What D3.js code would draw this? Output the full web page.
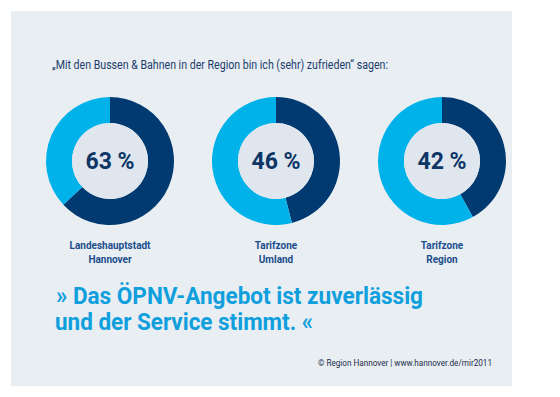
<!DOCTYPE html>
<html>
<head>
<meta charset="utf-8">
<script src="https://cdn.jsdelivr.net/npm/d3@7"></script>
<style>
  body { margin: 0; background: #fff; }
  svg text { font-family: "Roboto", "DejaVu Sans", sans-serif; }
</style>
</head>
<body>
<div id="chart"></div>
<script>
// data
var regions = [["Landeshauptstadt", "Hannover"], ["Tarifzone", "Umland"], ["Tarifzone", "Region"]];
var zufrieden = [63, 46, 42];

var width = 560, height = 397;

var svg = d3.select("#chart")
    .append("svg")
    .attr("width", width)
    .attr("height", height);

// grey panel
svg.append("rect")
    .attr("x", 11).attr("y", 11)
    .attr("width", 501).attr("height", 375)
    .attr("fill", "#e9eef3");

svg.append("text")
    .attr("x", 52).attr("y", 69)
    .attr("font-size", 12)
    .attr("fill", "#1c3d6b")
    .attr("textLength", 336)
    .attr("lengthAdjust", "spacingAndGlyphs")
    .text("\u201EMit den Bussen & Bahnen in der Region bin ich (sehr) zufrieden\u201C sagen:");

// one band per donut
var x = d3.scaleBand()
    .domain(d3.range(zufrieden.length))
    .range([27, 525]);

var outerR = 64, innerR = 38;
var pie = d3.pie().sort(null).value(function (d) { return d; });
var arc = d3.arc().innerRadius(innerR).outerRadius(outerR);
var color = ["#003a70", "#00b2ea"];

var g = svg.selectAll(".donut")
    .data(zufrieden)
    .enter().append("g")
    .attr("class", "donut")
    .attr("transform", function (d, i) { return "translate(" + (x(i) + x.bandwidth() / 2) + ",161)"; });

g.selectAll("path")
    .data(function (d) { return pie([d, 100 - d]); })
    .enter().append("path")
    .attr("d", arc)
    .attr("fill", function (d, i) { return color[i]; });

g.append("circle")
    .attr("r", innerR)
    .attr("fill", "#dfe6ee");

g.append("text")
    .attr("text-anchor", "middle")
    .attr("y", 8)
    .attr("font-size", 23)
    .attr("font-weight", "bold")
    .attr("fill", "#0d3566")
    .text(function (d) { return d + " %"; });

g.selectAll(".lbl")
    .data(function (d, i) { return regions[i]; })
    .enter().append("text")
    .attr("class", "lbl")
    .attr("text-anchor", "middle")
    .attr("y", function (d, j) { return 88 + j * 14; })
    .attr("font-size", 10)
    .attr("font-weight", "bold")
    .attr("fill", "#1a4d8c")
    .text(function (d) { return d; });

// quote
var quote = ["\u00BB Das \u00D6PNV-Angebot ist zuverl\u00E4ssig", "und der Service stimmt. \u00AB"];
var quoteWidth = [367, 258];
svg.selectAll(".quote")
    .data(quote)
    .enter().append("text")
    .attr("class", "quote")
    .attr("x", function (d, i) { return i == 0 ? 56 : 55; })
    .attr("y", function (d, i) { return 304 + i * 26; })
    .attr("font-size", 24)
    .attr("font-weight", "bold")
    .attr("fill", "#109fdd")
    .attr("textLength", function (d, i) { return quoteWidth[i]; })
    .attr("lengthAdjust", "spacingAndGlyphs")
    .text(function (d) { return d; });

svg.append("text")
    .attr("x", 318).attr("y", 366)
    .attr("font-size", 9)
    .attr("fill", "#1c2d4a")
    .attr("textLength", 174)
    .attr("lengthAdjust", "spacingAndGlyphs")
    .text("\u00A9 Region Hannover  |  www.hannover.de/mir2011");
</script>
</body>
</html>
